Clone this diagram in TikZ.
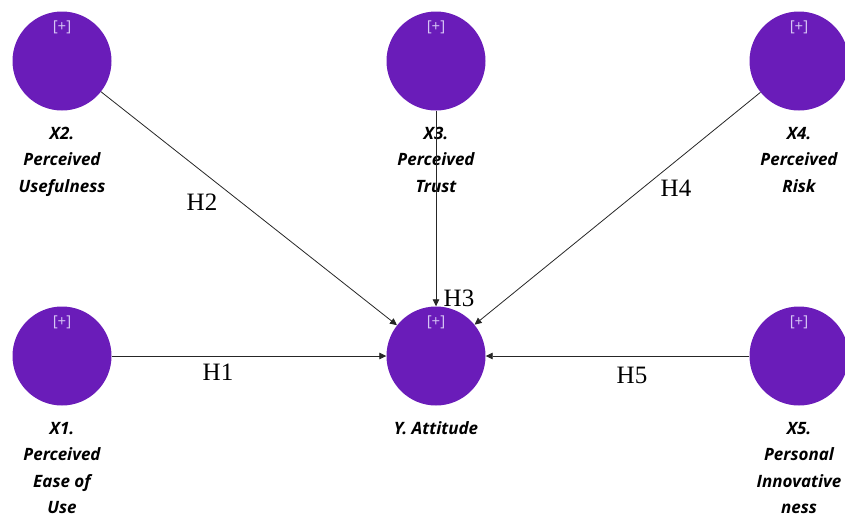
\documentclass[tikz,border=0pt]{standalone}
\usepackage{fontspec}
\setmainfont{Liberation Serif}
\newfontfamily\lvfont{Open Sans}
\usetikzlibrary{positioning,arrows.meta}
\definecolor{lvpurple}{RGB}{106,28,185}
\definecolor{pluscol}{RGB}{214,198,245}

\begin{document}
\begin{tikzpicture}[x=1pt,y=-1pt,
  lv/.style={circle,fill=lvpurple,minimum size=99pt,inner sep=0pt,
    label={[plus,anchor=north,label distance=-9pt]90:{[+]}}},
  plus/.style={text=pluscol,inner sep=0pt,font=\lvfont\fontsize{15}{15}\selectfont},
  lvtxt/.style={align=center,inner sep=0pt,font=\lvfont\bfseries\itshape\fontsize{17}{26.5}\selectfont},
  hyp/.style={inner sep=0pt,font=\fontsize{25}{25}\selectfont},
  arr/.style={-{Triangle[length=7pt,width=6.5pt]},line width=0.8pt,draw=black!85}
]
\useasboundingbox (0,0) rectangle (845,517);
\node[lv] (x2) at (62,61) {};
\node[lv] (x3) at (436,61) {};
\node[lv] (x4) at (799,61) {};
\node[lv] (x1) at (62,356) {};
\node[lv] (y) at (436,356) {};
\node[lv] (x5) at (799,356) {};
\node[lvtxt,below=16pt of x2] (x2txt) {X2.\\Perceived\\Usefulness};
\node[lvtxt,below=16pt of x3] (x3txt) {X3.\\Perceived\\Trust};
\node[lvtxt,below=16pt of x4] (x4txt) {X4.\\Perceived\\Risk};
\node[lvtxt,below=16pt of x1] (x1txt) {X1.\\Perceived\\Ease of\\Use};
\node[lvtxt,below=16pt of y] (ytxt) {Y. Attitude};
\node[lvtxt,below=16pt of x5] (x5txt) {X5.\\Personal\\Innovative\\ness};
\draw[arr] (x1) -- (y);
\draw[arr] (x2) -- (y);
\draw[arr] (x3) -- (y);
\draw[arr] (x4) -- (y);
\draw[arr] (x5) -- (y);
\node[hyp] (h1) at (218,372) {H1};
\node[hyp] (h2) at (202,202) {H2};
\node[hyp] (h3) at (459,298) {H3};
\node[hyp] (h4) at (676,188) {H4};
\node[hyp] (h5) at (632,375) {H5};
\end{tikzpicture}
\end{document}
